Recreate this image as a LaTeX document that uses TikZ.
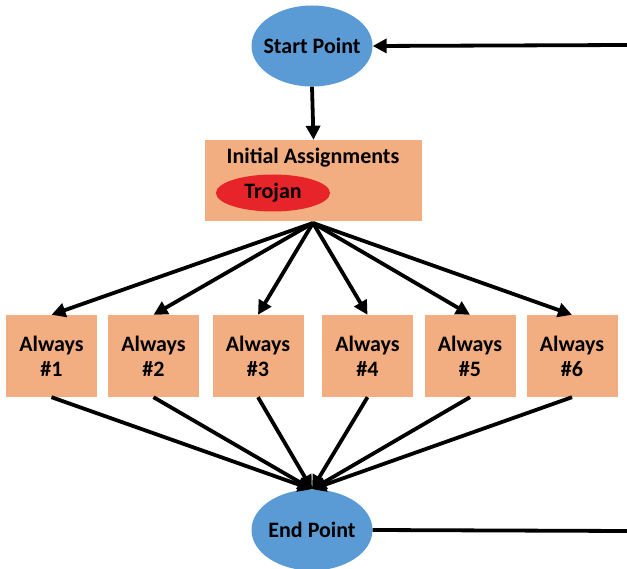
\documentclass[tikz,border=0pt]{standalone}
\usepackage{fontspec}
\setmainfont{Carlito}
\usetikzlibrary{shapes.geometric,arrows.meta}
\definecolor{termblue}{HTML}{5B9BD5}
\definecolor{blockorange}{HTML}{F2AD80}
\definecolor{trojanred}{HTML}{E8242B}
\tikzset{
  labelfont/.style={font=\fontsize{22}{25}\selectfont\bfseries},
  terminal/.style={ellipse, fill=termblue, minimum width=121pt, minimum height=81pt,
    inner xsep=-8pt, inner ysep=0pt, labelfont},
  block/.style={rectangle, fill=blockorange, inner sep=0pt},
  alwaysbox/.style={block, minimum width=91pt, minimum height=82pt, align=center, labelfont},
  trojanmark/.style={ellipse, fill=trojanred, minimum width=114pt, minimum height=37pt,
    inner sep=0pt, labelfont},
  flow/.style={line width=3.8pt, -{Triangle[length=14pt,width=14pt]}},
  wire/.style={line width=3.8pt}
}
\begin{document}
\begin{tikzpicture}[x=1pt,y=-1pt]
  \useasboundingbox (0,0) rectangle (627,569);
  \fill[white] (0,0) rectangle (627,569);

  % terminals
  \node[terminal] (startp) at (312,46) {Start Point};
  \node[terminal] (endp) at (312,530) {End Point};

  % initial block with the embedded trojan
  \node[block, minimum width=217pt, minimum height=81pt] (init) at (313.5,180.5) {};
  \node[labelfont] (inittext) at (313,158) {Initial Assignments};
  \node[trojanmark] (trojan) at (273,193) {Trojan};

  % parallel always blocks
  \node[alwaysbox] (a1) at (51.5,356) {Always\\\#1};
  \node[alwaysbox] (a2) at (153.5,356) {Always\\\#2};
  \node[alwaysbox] (a3) at (258,356) {Always\\\#3};
  \node[alwaysbox] (a4) at (367.5,356) {Always\\\#4};
  \node[alwaysbox] (a5) at (470,356) {Always\\\#5};
  \node[alwaysbox] (a6) at (572,356) {Always\\\#6};

  % loop-back connectors at the right edge
  \coordinate (rtop) at (627,45);
  \coordinate (rbot) at (627,531);
  \coordinate (fan) at (313,223);

  \draw[flow] (startp.south) -- (init.north);
  \draw[flow] (rtop) -- (startp.east);
  \draw[wire] (endp.east) -- (rbot);

  \foreach \k in {1,...,6} {
    \draw[flow] (fan) -- (a\k.north);
    \draw[flow] (a\k.south) -- (endp.north);
  }
\end{tikzpicture}
\end{document}
